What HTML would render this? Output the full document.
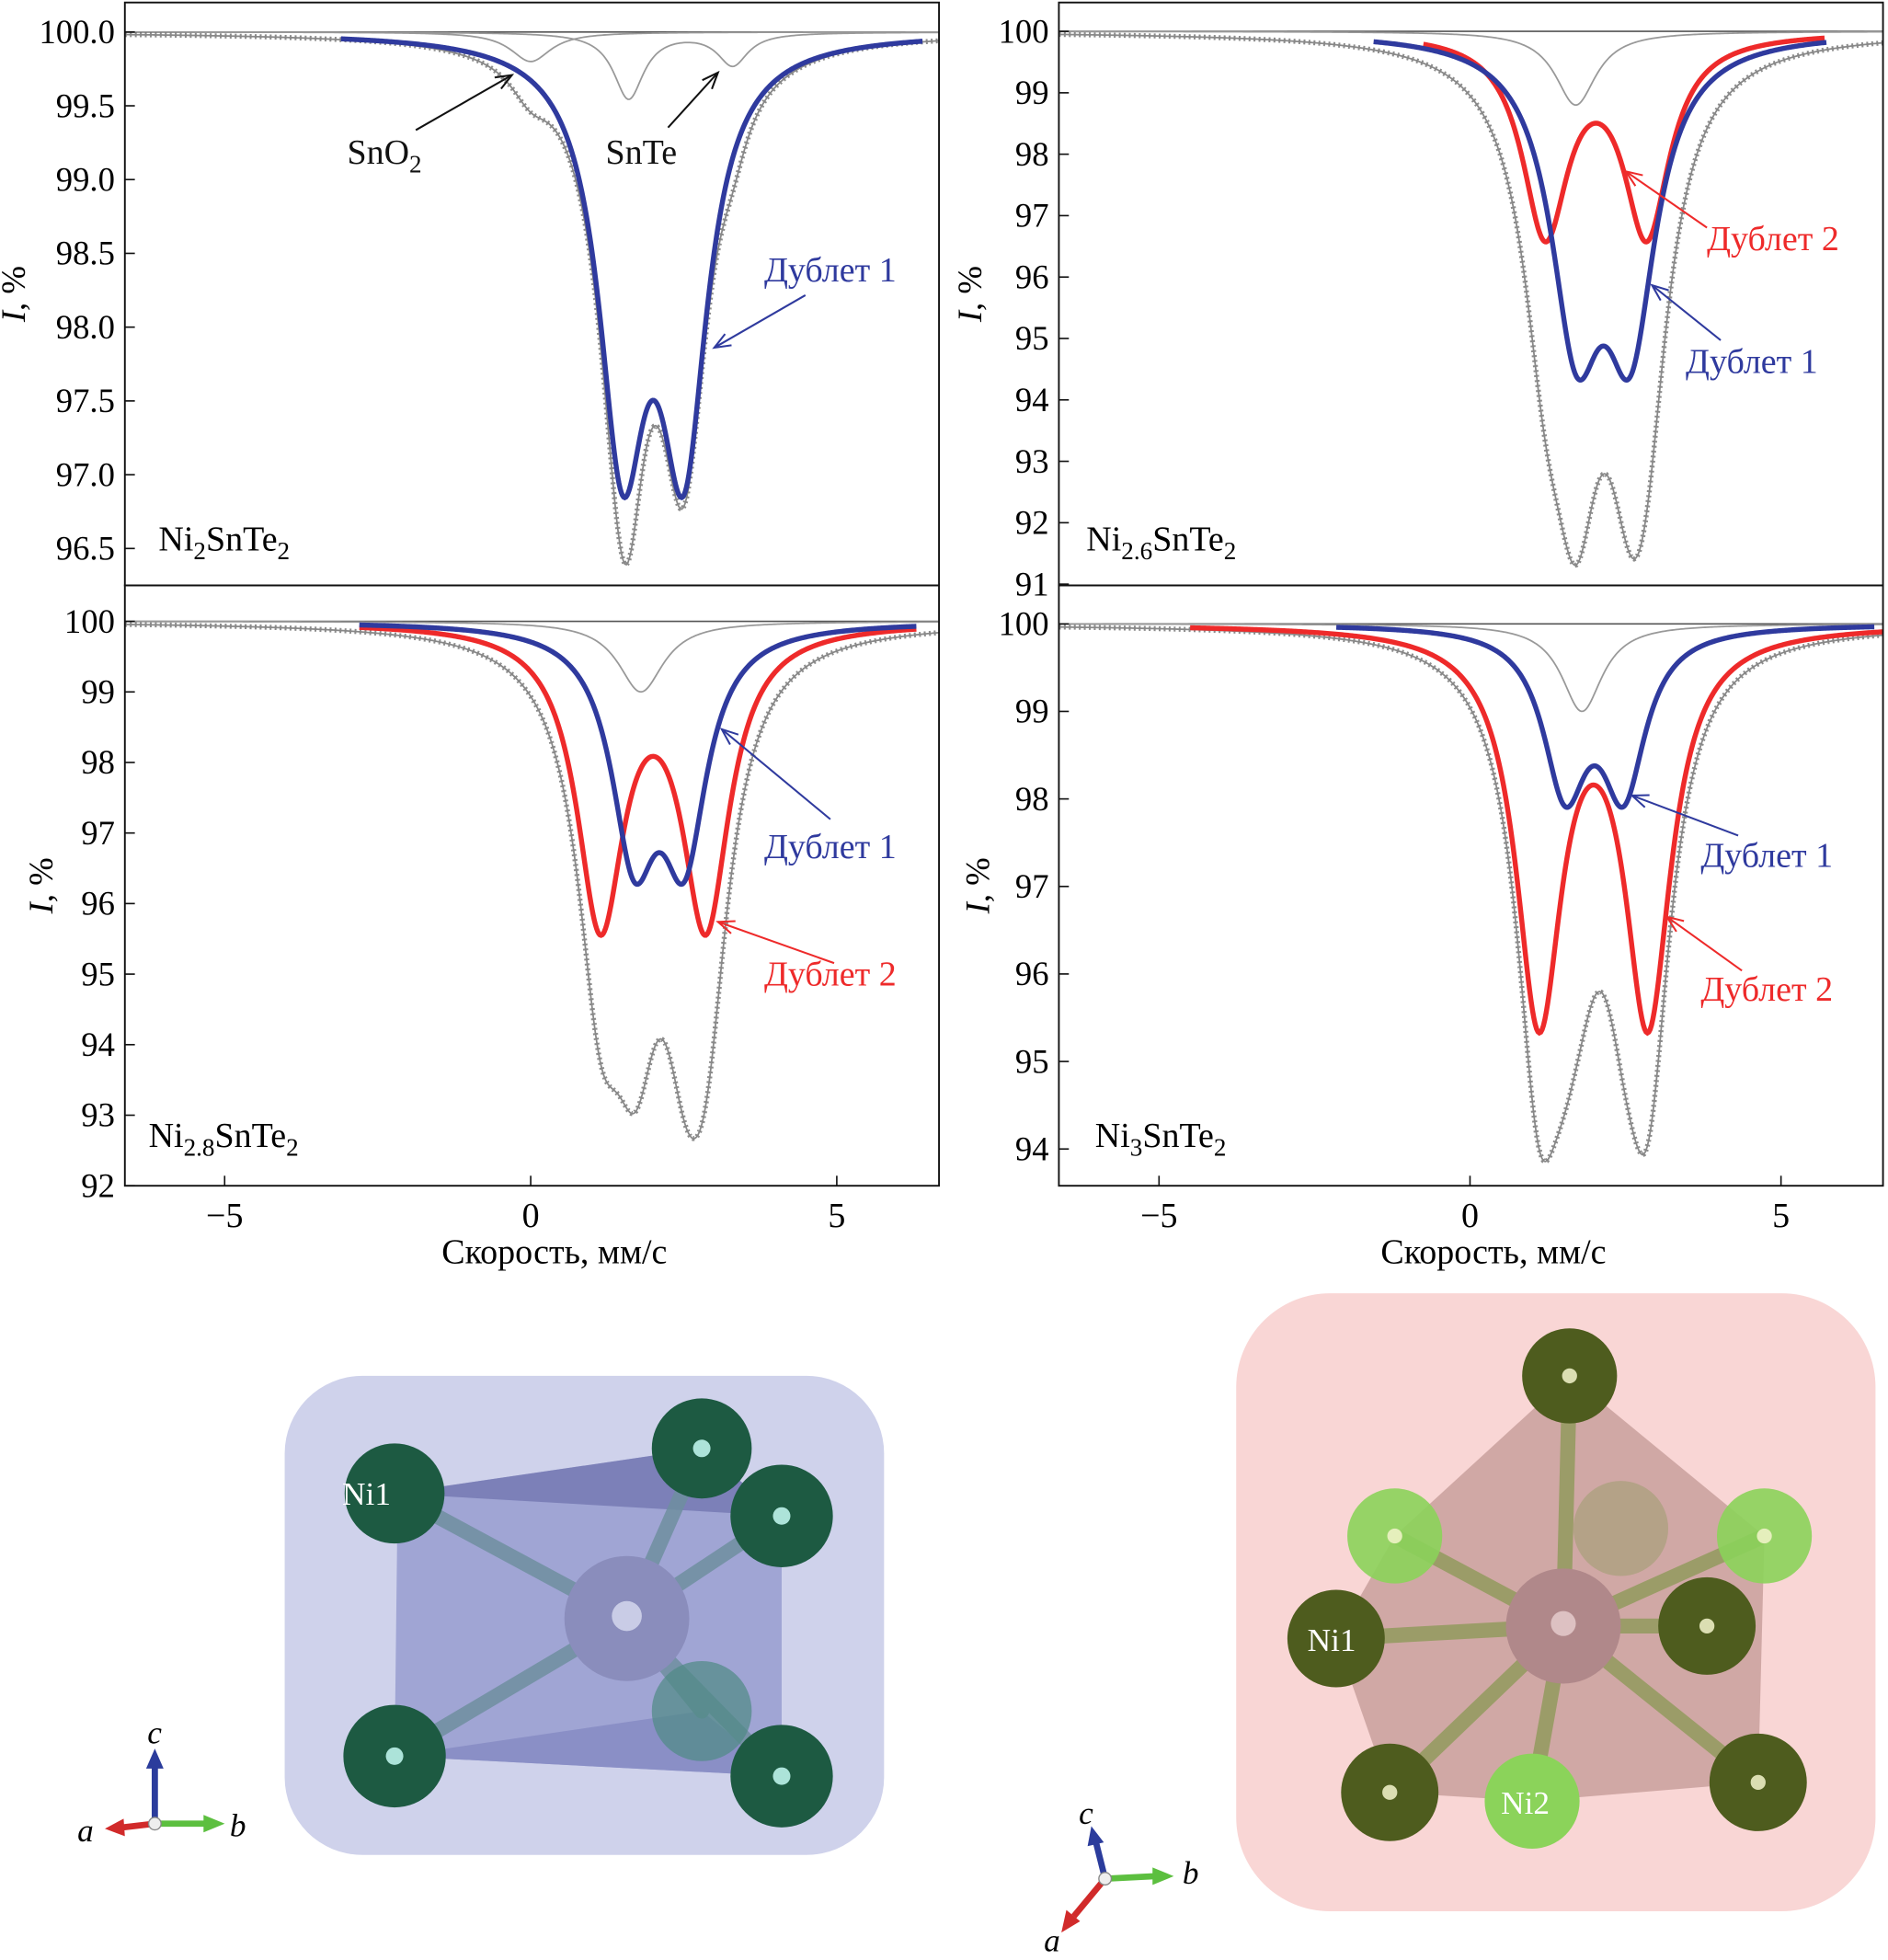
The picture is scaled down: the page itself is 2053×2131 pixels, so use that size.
<!DOCTYPE html>
<html><head><meta charset="utf-8">
<style>
html,body{margin:0;padding:0;background:#fff;}
svg{display:block;}
text{font-family:"Liberation Serif","DejaVu Serif",serif;}
</style></head>
<body>
<svg id="fig" xmlns="http://www.w3.org/2000/svg" width="2053" height="2131" viewBox="0 0 1512 1567" preserveAspectRatio="none">
<g id="charts"></g>

<!-- Left structure -->
<g>
  <rect x="228" y="1100" width="480" height="383" rx="62" fill="#cfd2eb"/>
  <polygon points="316,1194 562,1158 626,1212 626,1420 316,1404 318,1236" fill="#9aa0d2" opacity="0.9"/>
  <polygon points="316,1194 562,1158 626,1212" fill="#7c80b8"/>
  <polygon points="316,1404 562,1368 626,1420" fill="#8a8fc6"/>
  <g stroke="#6f8fa0" stroke-width="12" stroke-linecap="round" opacity="0.85">
    <line x1="316" y1="1194" x2="502" y2="1294"/><line x1="562" y1="1158" x2="502" y2="1294"/>
    <line x1="626" y1="1212" x2="502" y2="1294"/><line x1="316" y1="1404" x2="502" y2="1294"/>
    <line x1="562" y1="1368" x2="502" y2="1294"/><line x1="626" y1="1420" x2="502" y2="1294"/>
  </g>
  <circle cx="562" cy="1368" r="40" fill="#4f8a84" opacity="0.7"/>
  <circle cx="502" cy="1294" r="50" fill="#8a8dbc"/>
  <circle cx="502" cy="1292" r="12" fill="#d8dcf0" opacity="0.8"/>
  <g fill="#1d5a42">
    <circle cx="316" cy="1194" r="40"/>
    <circle cx="562" cy="1158" r="40"/>
    <circle cx="626" cy="1212" r="41"/>
    <circle cx="316" cy="1404" r="41"/>
    <circle cx="626" cy="1420" r="41"/>
  </g>
  <g fill="#bdf2ea" opacity="0.9">
    <circle cx="562" cy="1158" r="7"/><circle cx="626" cy="1212" r="7"/><circle cx="316" cy="1404" r="7"/><circle cx="626" cy="1420" r="7"/>
  </g>
  <text x="274" y="1203" font-size="26" fill="#fff">Ni1</text>
</g>
<g>
  <line x1="124" y1="1458" x2="124" y2="1412" stroke="#2b3c9c" stroke-width="5"/>
  <polygon points="117,1414 131,1414 124,1398" fill="#2b3c9c"/>
  <line x1="124" y1="1458" x2="165" y2="1458" stroke="#5cbf3f" stroke-width="5"/>
  <polygon points="163,1451 163,1465 180,1458" fill="#5cbf3f"/>
  <line x1="124" y1="1458" x2="98" y2="1461" stroke="#d12a2a" stroke-width="5"/>
  <polygon points="99,1454 100,1468 84,1462" fill="#d12a2a"/>
  <circle cx="124" cy="1458" r="5" fill="#eee" stroke="#888"/>
  <text x="118" y="1394" font-size="26" font-style="italic">c</text>
  <text x="184" y="1468" font-size="26" font-style="italic">b</text>
  <text x="62" y="1472" font-size="26" font-style="italic">a</text>
</g>

<!-- Right structure -->
<g>
  <rect x="990" y="1034" width="512" height="494" rx="75" fill="#f9d6d5"/>
  <polygon points="1257,1100 1413,1228 1408,1425 1227,1440 1113,1433 1070,1310 1117,1228" fill="#c29894" opacity="0.75"/>
  <g stroke="#8f9a5a" stroke-width="12" stroke-linecap="round" opacity="0.8">
    <line x1="1257" y1="1100" x2="1252" y2="1300"/><line x1="1117" y1="1228" x2="1252" y2="1300"/>
    <line x1="1413" y1="1228" x2="1252" y2="1300"/><line x1="1070" y1="1310" x2="1252" y2="1300"/>
    <line x1="1367" y1="1300" x2="1252" y2="1300"/><line x1="1113" y1="1433" x2="1252" y2="1300"/>
    <line x1="1227" y1="1440" x2="1252" y2="1300"/><line x1="1408" y1="1425" x2="1252" y2="1300"/>
  </g>
  <circle cx="1298" cy="1222" r="38" fill="#a8a07a" opacity="0.7"/>
  <circle cx="1252" cy="1300" r="46" fill="#b0888a"/>
  <circle cx="1252" cy="1298" r="10" fill="#e8cfd0" opacity="0.8"/>
  <g fill="#4e5c1e">
    <circle cx="1257" cy="1100" r="38"/>
    <circle cx="1070" cy="1310" r="39"/>
    <circle cx="1367" cy="1300" r="39"/>
    <circle cx="1113" cy="1433" r="39"/>
    <circle cx="1408" cy="1425" r="39"/>
  </g>
  <g fill="#8bd35a">
    <circle cx="1117" cy="1228" r="38" opacity="0.9"/>
    <circle cx="1413" cy="1228" r="38" opacity="0.9"/>
    <circle cx="1227" cy="1440" r="38"/>
  </g>
  <g fill="#f4f4cc" opacity="0.85">
    <circle cx="1257" cy="1100" r="6"/><circle cx="1367" cy="1300" r="6"/><circle cx="1113" cy="1433" r="6"/><circle cx="1408" cy="1425" r="6"/><circle cx="1117" cy="1228" r="6"/><circle cx="1413" cy="1228" r="6"/>
  </g>
  <text x="1047" y="1320" font-size="26" fill="#fff">Ni1</text>
  <text x="1202" y="1450" font-size="26" fill="#fff">Ni2</text>
</g>
<g>
  <line x1="885" y1="1502" x2="878" y2="1474" stroke="#2b3c9c" stroke-width="5"/>
  <polygon points="871,1476 884,1473 874,1460" fill="#2b3c9c"/>
  <line x1="885" y1="1502" x2="925" y2="1500" stroke="#5cbf3f" stroke-width="5"/>
  <polygon points="923,1493 923,1507 940,1500" fill="#5cbf3f"/>
  <line x1="885" y1="1502" x2="860" y2="1532" stroke="#d12a2a" stroke-width="5"/>
  <polygon points="854,1527 865,1536 850,1545" fill="#d12a2a"/>
  <circle cx="885" cy="1502" r="5" fill="#eee" stroke="#888"/>
  <text x="864" y="1458" font-size="26" font-style="italic">c</text>
  <text x="947" y="1506" font-size="26" font-style="italic">b</text>
  <text x="836" y="1560" font-size="26" font-style="italic">a</text>
</g>
</svg>

<script>
// ---------- Data (Lorentzian components: [center mm/s, half-width, depth %]) ----------
const tlDoublet1 = [[1.5, 0.47, 2.66], [2.5, 0.47, 2.66]];
const tlSnO2 = [[0.0, 0.4, 0.2]];
const tlSnTe = [[1.6, 0.3, 0.45], [3.3, 0.3, 0.22]];

const trSingle = [[1.7, 0.4, 1.2]];
const trDoublet1 = [[1.71, 0.5, 4.5], [2.58, 0.5, 4.5]];
const trDoublet2 = [[1.21, 0.45, 3.2], [2.84, 0.45, 3.2]];

const blSingle = [[1.8, 0.45, 1.0]];
const blDoublet1 = [[1.69, 0.45, 3.0], [2.51, 0.45, 3.0]];
const blDoublet2 = [[1.14, 0.47, 4.16], [2.86, 0.47, 4.16]];

const brSingle = [[1.8, 0.4, 1.0]];
const brDoublet1 = [[1.53, 0.43, 1.78], [2.47, 0.43, 1.78]];
const brDoublet2 = [[1.11, 0.45, 4.4], [2.86, 0.45, 4.4]];

const tlYTicks = [96.5, 97.0, 97.5, 98.0, 98.5, 99.0, 99.5, 100.0];
const trYTicks = [91, 92, 93, 94, 95, 96, 97, 98, 99, 100];
const blYTicks = [92, 93, 94, 95, 96, 97, 98, 99, 100];
const brYTicks = [94, 95, 96, 97, 98, 99, 100];
const xTicks = [-5, 0, 5];

const NS = "http://www.w3.org/2000/svg";
const root = document.getElementById('charts');

function mk(tag, attrs, parent) {
  const e = document.createElementNS(NS, tag);
  for (const k in attrs) e.setAttribute(k, attrs[k]);
  (parent || root).appendChild(e);
  return e;
}
function intensity(comps, v) {
  let s = 100;
  comps.forEach(c => { const d = (v - c[0]) / c[1]; s -= c[2] / (1 + d * d); });
  return s;
}

const panels = [
  {id:'tl', x0:100, x1:752, y0:2, y1:468, vmin:-6.63, vmax:6.67, imax:100.2, imin:96.25, ticks:tlYTicks, dec:1,
   label:['Ni','2','SnTe','2'], lx:127, ly:440, xaxis:false, ylab:235, ylabx:20,
   thin:[tlSnO2, tlSnTe], blue:tlDoublet1, red:null, bluer:[-3.1,6.4], redr:null, all:[tlDoublet1, tlSnO2, tlSnTe]},
  {id:'tr', x0:848, x1:1508, y0:2, y1:468, vmin:-6.61, vmax:6.64, imax:100.47, imin:90.98, ticks:trYTicks, dec:0,
   label:['Ni','2.6','SnTe','2'], lx:870, ly:440, xaxis:false, ylab:235, ylabx:786,
   thin:[trSingle], blue:trDoublet1, red:trDoublet2, bluer:[-1.55,5.73], redr:[-0.75,5.7], all:[trDoublet1, trDoublet2, trSingle]},
  {id:'bl', x0:100, x1:752, y0:468, y1:948, vmin:-6.63, vmax:6.67, imax:100.51, imin:92.0, ticks:blYTicks, dec:0,
   label:['Ni','2.8','SnTe','2'], lx:119, ly:917, xaxis:true, ylab:708, ylabx:42, xz:425,
   thin:[blSingle], blue:blDoublet1, red:blDoublet2, bluer:[-2.8,6.3], redr:[-2.8,6.3], all:[blDoublet1, blDoublet2, blSingle]},
  {id:'br', x0:848, x1:1508, y0:468, y1:948, vmin:-6.61, vmax:6.64, imax:100.44, imin:93.58, ticks:brYTicks, dec:0,
   label:['Ni','3','SnTe','2'], lx:877, ly:917, xaxis:true, ylab:708, ylabx:792, xz:1177,
   thin:[brSingle], blue:brDoublet1, red:brDoublet2, bluer:[-2.15,6.5], redr:[-4.5,6.64], all:[brDoublet1, brDoublet2, brSingle]}
];

panels.forEach(p => {
  const g = mk('g', {});
  
  
  const sx = v => p.x0 + (v - p.vmin) / (p.vmax - p.vmin) * (p.x1 - p.x0);
  const sy = i => p.y0 + (p.imax - i) / (p.imax - p.imin) * (p.y1 - p.y0);
  const path = (comps, a, b) => {
    let d = '';
    const n = 500;
    for (let k = 0; k <= n; k++) {
      const v = a + (b - a) * k / n;
      d += (k ? 'L' : 'M') + sx(v).toFixed(2) + ',' + sy(intensity(comps, v)).toFixed(2);
    }
    return d;
  };
  const clipId = 'clip-' + p.id;
  const cp = mk('clipPath', {id: clipId}, g);
  mk('rect', {x:p.x0, y:p.y0, width:p.x1-p.x0, height:p.y1-p.y0}, cp);
  const plot = mk('g', {'clip-path':'url(#' + clipId + ')'}, g);

  // baseline
  const base = mk('line', {x1:p.x0, x2:p.x1, y1:sy(100), y2:sy(100), stroke:'#555', 'stroke-width':1.2}, plot);
  
  
  // thin sub-components
  p.thin.forEach((c, idx) => {
    const t = mk('path', {d:path(c, p.vmin, p.vmax), fill:'none', stroke:'#999', 'stroke-width':1.3}, plot);
    
    
  });
  // total fit + data points imitation
  const all = [].concat(...p.all);
  const pts = mk('path', {d:path(all, p.vmin, p.vmax), fill:'none', stroke:'#666', 'stroke-width':4, 'stroke-dasharray':'1.5 2.5', opacity:0.75}, plot);
  
  
  const tot = mk('path', {d:path(all, p.vmin, p.vmax), fill:'none', stroke:'#888', 'stroke-width':1.3}, plot);
  
  
  if (p.red) {
    const r = mk('path', {d:path(p.red, p.redr[0], p.redr[1]), fill:'none', stroke:'#ee2a2a', 'stroke-width':4}, plot);
    
    
  }
  const b = mk('path', {d:path(p.blue, p.bluer[0], p.bluer[1]), fill:'none', stroke:'#2f3a9e', 'stroke-width':4}, plot);
  
  
  if (p.id === 'tr' || p.id === 'br') { // red drawn over blue where in front
    const r2 = mk('path', {d:path(p.red, p.redr[0], p.redr[1]), fill:'none', stroke:'#ee2a2a', 'stroke-width':4, opacity:0}, plot);
  }

  // frame
  const fr = mk('rect', {x:p.x0, y:p.y0, width:p.x1-p.x0, height:p.y1-p.y0, fill:'none', stroke:'#111', 'stroke-width':1.4}, g);
  
  

  // y ticks
  p.ticks.forEach(t => {
    const y = sy(t);
    mk('line', {x1:p.x0, x2:p.x0+8, y1:y, y2:y, stroke:'#111', 'stroke-width':1.2}, g);
    const tx = mk('text', {x:p.x0-8, y:y+9, 'font-size':27, 'text-anchor':'end'}, g);
    tx.textContent = t.toFixed(p.dec);
    
    
  });
  // y axis title
  const yt = mk('text', {x:p.ylabx, y:p.ylab, 'font-size':27, 'text-anchor':'middle', transform:'rotate(-90 ' + p.ylabx + ' ' + p.ylab + ')'}, g);
  yt.innerHTML = '<tspan font-style="italic">I</tspan>, %';
  
  

  // sample label
  const sl = mk('text', {x:p.lx, y:p.ly, 'font-size':28}, g);
  sl.innerHTML = p.label[0] + '<tspan font-size="20" dy="7">' + p.label[1] + '</tspan><tspan dy="-7">' + p.label[2] + '</tspan><tspan font-size="20" dy="7">' + p.label[3] + '</tspan>';
  
  

  if (p.xaxis) {
    xTicks.forEach(t => {
      const x = sx(t);
      mk('line', {x1:x, x2:x, y1:p.y1, y2:p.y1-8, stroke:'#111', 'stroke-width':1.2}, g);
      const tx = mk('text', {x:x, y:p.y1+33, 'font-size':28, 'text-anchor':'middle'}, g);
      tx.textContent = t < 0 ? '\u2212' + Math.abs(t) : String(t);
      
      
    });
    const xt = mk('text', {x:(p.x0+p.x1)/2 + 18, y:p.y1+62, 'font-size':28, 'text-anchor':'middle'}, g);
    xt.textContent = 'Скорость, мм/с';
    
    
  }
});

// ---------- Annotations ----------
function annot(name, text, x, y, color, ax1, ay1, ax2, ay2, sub) {
  const g = mk('g', {});
  
  
  const t = mk('text', {x:x, y:y, 'font-size':28, fill:color}, g);
  if (sub) t.innerHTML = text + '<tspan font-size="20" dy="7">' + sub + '</tspan>';
  else t.textContent = text;
  mk('line', {x1:ax1, y1:ay1, x2:ax2, y2:ay2, stroke:color, 'stroke-width':1.5}, g);
  const ang = Math.atan2(ay2 - ay1, ax2 - ax1), L = 14, w = 0.38;
  mk('polyline', {points:[ax2 - L*Math.cos(ang-w), ay2 - L*Math.sin(ang-w), ax2, ay2, ax2 - L*Math.cos(ang+w), ay2 - L*Math.sin(ang+w)].join(','), fill:'none', stroke:color, 'stroke-width':1.5}, g);
}
annot('sno2-annotation', 'SnO', 278, 131, '#111', 333, 104, 410, 60, '2');
annot('snte-annotation', 'SnTe', 485, 131, '#111', 535, 102, 575, 58);
annot('tl-doublet1-annotation', 'Дублет 1', 612, 225, '#2f3a9e', 645, 236, 572, 278);
annot('tr-doublet2-annotation', 'Дублет 2', 1367, 200, '#ee2a2a', 1367, 182, 1302, 137);
annot('tr-doublet1-annotation', 'Дублет 1', 1350, 298, '#2f3a9e', 1378, 272, 1323, 228);
annot('bl-doublet1-annotation', 'Дублет 1', 612, 686, '#2f3a9e', 665, 655, 578, 583);
annot('bl-doublet2-annotation', 'Дублет 2', 612, 788, '#ee2a2a', 668, 770, 575, 737);
annot('br-doublet1-annotation', 'Дублет 1', 1362, 693, '#2f3a9e', 1392, 668, 1307, 636);
annot('br-doublet2-annotation', 'Дублет 2', 1362, 800, '#ee2a2a', 1395, 776, 1335, 733);
</script>
</body></html>
